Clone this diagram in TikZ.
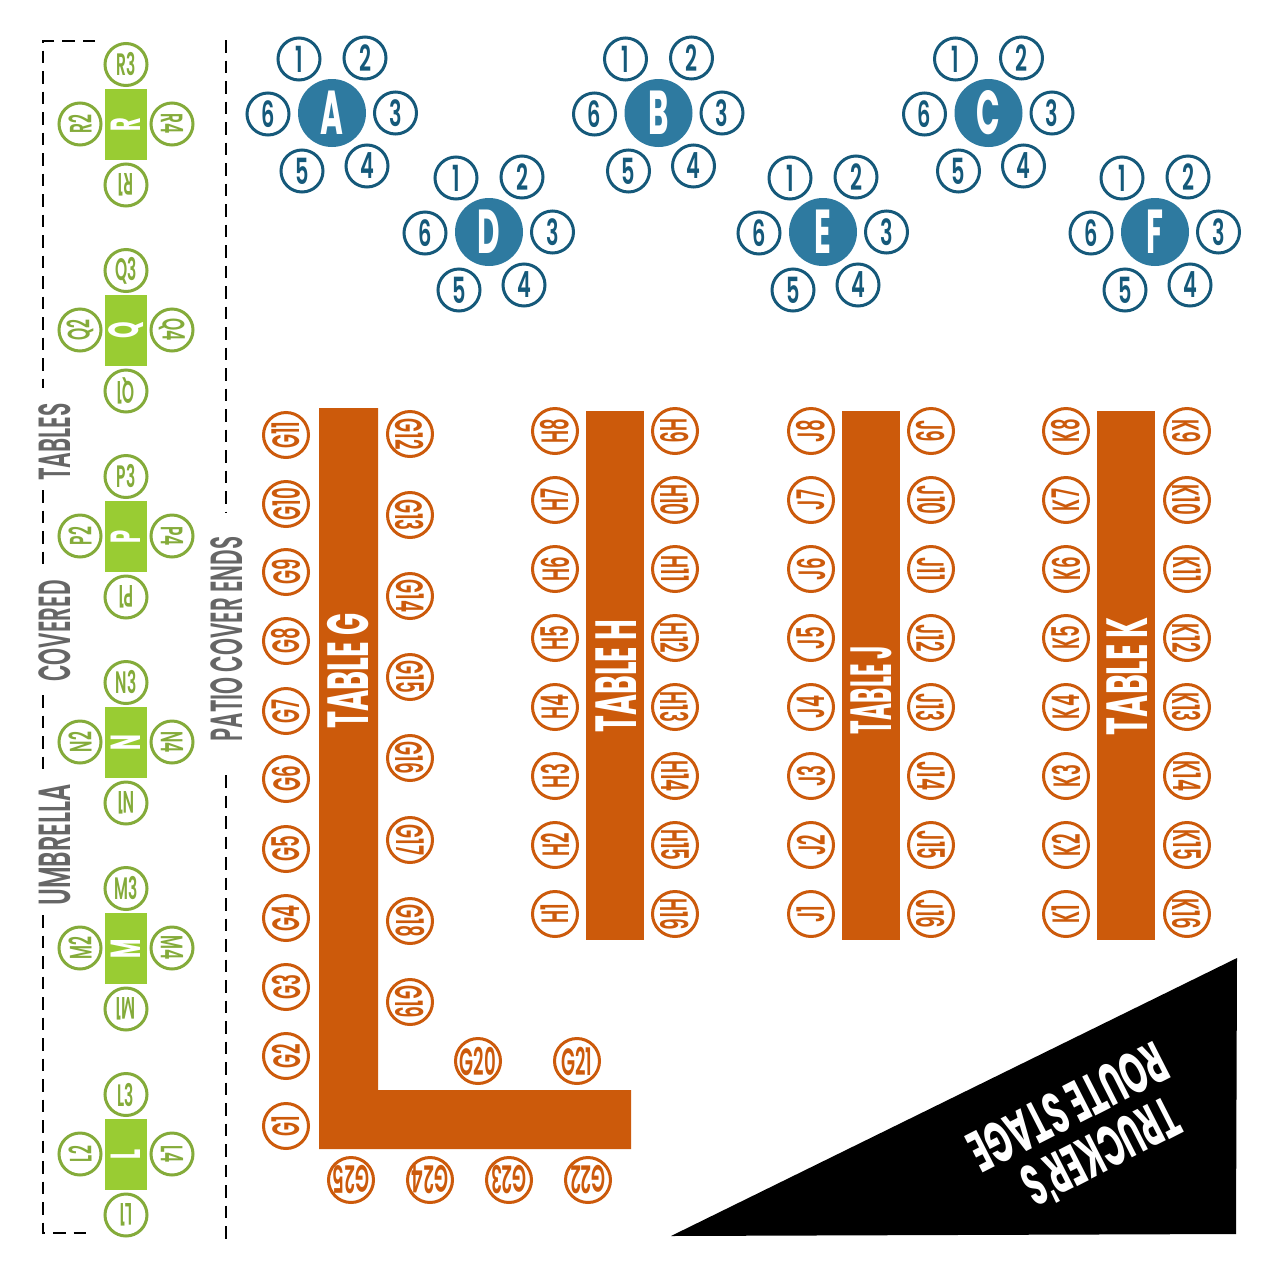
\documentclass[tikz,border=0pt]{standalone}
\usepackage{graphicx}
\usepackage{fontspec}
\newfontfamily\labfont{Poppins SemiBold}
\newfontfamily\boldlab{Poppins Bold}
\newcommand{\cond}[2]{\makebox[0pt]{\scalebox{#1}[1]{#2}}}
\definecolor{orangec}{HTML}{CC5A0B}
\definecolor{bluefill}{HTML}{2E7AA0}
\definecolor{bluedark}{HTML}{15597A}
\definecolor{greenfill}{HTML}{99CC33}
\definecolor{greendark}{HTML}{84AB3A}
\definecolor{greytext}{HTML}{666666}
\tikzset{
  seatorange/.style={circle,draw=orangec,line width=3pt,text=orangec,minimum size=45pt,inner sep=0pt,font=\labfont\fontsize{38}{38}\selectfont},
  seatblue/.style={circle,draw=bluedark,line width=3pt,text=bluedark,minimum size=42pt,inner sep=0pt,font=\labfont\fontsize{36}{36}\selectfont},
  seatgreen/.style={circle,draw=greendark,line width=3pt,text=greendark,minimum size=42pt,inner sep=0pt,font=\labfont\fontsize{31}{31}\selectfont},
  hubblue/.style={circle,fill=bluefill,text=white,minimum size=68pt,inner sep=0pt,font=\boldlab\fontsize{62}{62}\selectfont},
  tablegreen/.style={rectangle,fill=greenfill,text=white,minimum width=42pt,minimum height=71pt,inner sep=0pt,font=\boldlab\fontsize{42}{42}\selectfont},
  tableorange/.style={rectangle,fill=orangec,minimum width=58pt,minimum height=529pt,inner sep=0pt},
  tabletitle/.style={text=white,inner sep=0pt,font=\boldlab\fontsize{58}{58}\selectfont},
  greylabel/.style={text=greytext,inner sep=0pt,rotate=90,font=\labfont\fontsize{45}{45}\selectfont},
  stagetext/.style={text=white,inner sep=0pt,rotate=207,font=\boldlab\fontsize{58}{58}\selectfont},
  divider/.style={draw=black,line width=2.8pt,dash pattern=on 12.5pt off 8pt},
}
\newcommand{\olab}[1]{\cond{0.48}{#1}}
\begin{document}
\begin{tikzpicture}[x=1pt,y=-1pt]
\useasboundingbox (0,0) rectangle (1275,1275);
\fill[white] (0,0) rectangle (1275,1275);

% dividers
\coordinate (d1) at (95,41); \coordinate (d2) at (43,41); \coordinate (d3) at (43,388);
\coordinate (d4) at (43,490); \coordinate (d5) at (43,568);
\coordinate (d6) at (43,695); \coordinate (d7) at (43,775);
\coordinate (d8) at (43,915); \coordinate (d9) at (43,1233); \coordinate (d10) at (90,1233);
\coordinate (r1) at (226,40); \coordinate (r2) at (226,512); \coordinate (r3) at (226,775); \coordinate (r4) at (226,1240);
\draw[divider] (d1) -- (d2) -- (d3);
\draw[divider] (d4) -- (d5);
\draw[divider] (d6) -- (d7);
\draw[divider] (d8) -- (d9) -- (d10);
\draw[divider] (r1) -- (r2);
\draw[divider] (r3) -- (r4);
\node[greylabel] (lt) at (55,442) {\scalebox{0.49}[1]{TABLES}};
\node[greylabel] (lc) at (55,631) {\scalebox{0.48}[1]{COVERED}};
\node[greylabel] (lu) at (55,845) {\scalebox{0.535}[1]{UMBRELLA}};
\node[greylabel] (lp) at (227,639) {\scalebox{0.48}[1]{PATIO COVER ENDS}};

% green tables
\foreach \t/\y in {R/124,Q/330,P/536,N/742,M/948,L/1154}{
  \node[tablegreen] (\t) at (126,\y+.5) {\rotatebox{90}{\scalebox{0.5}[1]{\t}}};
  \node[seatgreen] (\t3) at (126,\y-59.5) {\cond{0.5}{\t3}};
  \node[seatgreen,rotate=90] (\t2) at (80,\y) {\cond{0.5}{\t2}};
  \node[seatgreen,rotate=-90] (\t4) at (172,\y) {\cond{0.5}{\t4}};
  \node[seatgreen,rotate=180] (\t1) at (126,\y+61) {\cond{0.5}{\t1}};
}

% blue tables
\foreach \t/\x/\y in {A/332/113,B/658.5/113,C/988.5/113,D/489/232,E/823/232,F/1155/232}{
  \node[hubblue] (\t) at (\x,\y) {\cond{0.5}{\t}};
  \node[seatblue] (\t1) at (\x-33,\y-54) {\cond{0.58}{1}};
  \node[seatblue] (\t2) at (\x+33,\y-55) {\cond{0.58}{2}};
  \node[seatblue] (\t3) at (\x+63.5,\y) {\cond{0.58}{3}};
  \node[seatblue] (\t4) at (\x+35,\y+53) {\cond{0.58}{4}};
  \node[seatblue] (\t5) at (\x-30,\y+58) {\cond{0.58}{5}};
  \node[seatblue] (\t6) at (\x-64,\y+1) {\cond{0.58}{6}};
}

% orange tables
\fill[orangec] (319,408) -- (378,408) -- (378,1090) -- (631,1090) -- (631,1149) -- (319,1149) -- cycle;
\node[tableorange] (TH) at (615,675.5) {};
\node[tableorange] (TJ) at (871,675.5) {};
\node[tableorange] (TK) at (1126,675.5) {};
\node[tabletitle,rotate=90] (tG) at (348,671) {\scalebox{0.5}[1]{TABLE G}};
\node[tabletitle,rotate=90] (tH) at (616,676) {\scalebox{0.49}[1]{TABLE H}};
\node[tabletitle,rotate=90] (tJ) at (871,690) {\scalebox{0.4}[1]{TABLE J}};
\node[tabletitle,rotate=90] (tK) at (1127,676) {\scalebox{0.52}[1]{TABLE K}};

\foreach \n/\y in {11/435,10/504,9/572,8/641,7/711,6/779,5/849,4/918,3/987,2/1056,1/1126}
  \node[seatorange,rotate=90] (G\n) at (286,\y) {\olab{G\n}};
\foreach \n/\y in {12/434,13/515,14/596,15/677,16/758,17/840,18/921,19/1002}
  \node[seatorange,rotate=-90] (G\n) at (410,\y) {\olab{G\n}};
\node[seatorange] (G20) at (478,1061) {\olab{G20}};
\node[seatorange] (G21) at (577,1061) {\olab{G21}};
\foreach \n/\x in {22/588,23/509,24/430,25/351}
  \node[seatorange,rotate=180] (G\n) at (\x,1180) {\olab{G\n}};
\foreach \t/\lx/\rx in {H/555/675,J/811/931,K/1066/1187}{
  \foreach \n/\y in {8/431,7/500,6/569,5/638,4/707,3/776,2/845,1/914}
    \node[seatorange,rotate=90] (\t\n) at (\lx,\y) {\olab{\t\n}};
  \foreach \n/\y in {9/431,10/500,11/569,12/638,13/707,14/776,15/845,16/914}
    \node[seatorange,rotate=-90] (\t\n) at (\rx,\y) {\olab{\t\n}};
}

% stage
\fill[black] (671,1236) -- (1237,958) -- (1236,1234) -- cycle;
\node[stagetext] (st1) at (1102,1154) {\scalebox{0.53}[1]{TRUCKER'S}};
\node[stagetext] (st2) at (1068,1107) {\scalebox{0.55}[1]{ROUTE STAGE}};
\end{tikzpicture}
\end{document}
